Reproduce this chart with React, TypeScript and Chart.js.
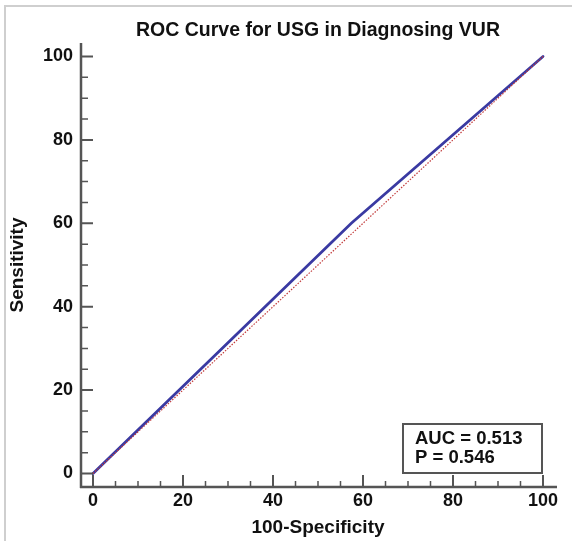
import React, { useEffect, useRef } from "react";
import { Chart, registerables } from "chart.js";

Chart.register(...registerables);

const rocFpr = [0, 57.4, 100];
const rocTpr = [0, 60, 100];
const diagX = [0, 100];
const diagY = [0, 100];
const majorTicks = [0, 20, 40, 60, 80, 100];
const minorTicks = [5, 10, 15, 25, 30, 35, 45, 50, 55, 65, 70, 75, 85, 90, 95];
const titleText = "ROC Curve for USG in Diagnosing VUR";
const xTitle = "100-Specificity";
const yTitle = "Sensitivity";
const statLines = ["AUC = 0.513", "P = 0.546"];

const FONT = '"Liberation Sans", Arial, sans-serif';
const AXIS = "#555555";

const customAxes = {
  id: "customAxes",
  afterDraw(chart: any) {
    const ctx = chart.ctx as CanvasRenderingContext2D;
    const xs = chart.scales.x;
    const ys = chart.scales.y;
    const area = chart.chartArea;
    ctx.save();

    // frame
    ctx.strokeStyle = "#cfcfcf";
    ctx.lineWidth = 2;
    ctx.beginPath();
    ctx.moveTo(5, 545);
    ctx.lineTo(5, 6);
    ctx.lineTo(580, 6);
    ctx.stroke();

    // axis lines
    ctx.strokeStyle = AXIS;
    ctx.lineWidth = 2.5;
    ctx.beginPath();
    ctx.moveTo(area.left, area.top);
    ctx.lineTo(area.left, area.bottom + 1);
    ctx.moveTo(area.left - 1, area.bottom);
    ctx.lineTo(area.right, area.bottom);
    ctx.stroke();

    // ticks
    ctx.lineWidth = 2;
    ctx.beginPath();
    for (const v of majorTicks) {
      const px = xs.getPixelForValue(v);
      ctx.moveTo(px, area.bottom);
      ctx.lineTo(px, area.bottom - 12);
      const py = ys.getPixelForValue(v);
      ctx.moveTo(area.left, py);
      ctx.lineTo(area.left + 12, py);
    }
    ctx.stroke();
    ctx.lineWidth = 1.5;
    ctx.beginPath();
    for (const v of minorTicks) {
      const px = xs.getPixelForValue(v);
      ctx.moveTo(px, area.bottom);
      ctx.lineTo(px, area.bottom - 6);
      const py = ys.getPixelForValue(v);
      ctx.moveTo(area.left, py);
      ctx.lineTo(area.left + 7, py);
    }
    ctx.stroke();

    // tick labels
    ctx.fillStyle = "#111111";
    ctx.font = `bold 18px ${FONT}`;
    ctx.textAlign = "center";
    ctx.textBaseline = "top";
    for (const v of majorTicks) {
      ctx.fillText(String(v), xs.getPixelForValue(v), area.bottom + 5);
    }
    ctx.textAlign = "right";
    ctx.textBaseline = "middle";
    for (const v of majorTicks) {
      ctx.fillText(String(v), area.left - 8, ys.getPixelForValue(v));
    }

    // titles
    const cx = (xs.getPixelForValue(0) + xs.getPixelForValue(100)) / 2;
    const cy = (ys.getPixelForValue(0) + ys.getPixelForValue(100)) / 2;
    ctx.font = `bold 19.5px ${FONT}`;
    ctx.textAlign = "center";
    ctx.textBaseline = "alphabetic";
    ctx.fillText(titleText, cx, 36);
    ctx.font = `bold 19px ${FONT}`;
    ctx.fillText(xTitle, cx, 533);
    ctx.save();
    ctx.translate(18, cy);
    ctx.rotate(-Math.PI / 2);
    ctx.textBaseline = "middle";
    ctx.fillText(yTitle, 0, 0);
    ctx.restore();

    // stats box
    ctx.fillStyle = "#ffffff";
    ctx.fillRect(403, 424, 139, 49);
    ctx.strokeStyle = AXIS;
    ctx.lineWidth = 2;
    ctx.strokeRect(403, 424, 139, 49);
    ctx.fillStyle = "#111111";
    ctx.font = `bold 18.5px ${FONT}`;
    ctx.textAlign = "left";
    ctx.textBaseline = "alphabetic";
    ctx.fillText(statLines[0], 415, 444);
    ctx.fillText(statLines[1], 415, 463);

    ctx.restore();
  },
};

export default function App() {
  const ref = useRef<HTMLCanvasElement | null>(null);
  useEffect(() => {
    document.body.style.margin = "0";
    const canvas = ref.current!;
    const chart = new Chart(canvas, {
      type: "scatter",
      data: {
        datasets: [
          {
            label: "Reference",
            data: diagX.map((x, i) => ({ x, y: diagY[i] })),
            showLine: true,
            borderColor: "#c23b3b",
            borderWidth: 1.2,
            borderDash: [1.5, 1.5],
            pointRadius: 0,
          },
          {
            label: "ROC",
            data: rocFpr.map((x, i) => ({ x, y: rocTpr[i] })),
            showLine: true,
            borderColor: "#3a3aa2",
            borderWidth: 2.8,
            pointRadius: 0,
            borderCapStyle: "round",
          },
        ],
      },
      options: {
        animation: false,
        responsive: false,
        maintainAspectRatio: false,
        layout: { padding: { left: 81, top: 43, right: 15, bottom: 54 } },
        plugins: { legend: { display: false }, tooltip: { enabled: false }, title: { display: false } },
        scales: {
          x: { type: "linear", min: -2.667, max: 103.111, display: false },
          y: { type: "linear", min: -3.24, max: 103.24, display: false },
        },
      },
      plugins: [customAxes],
    });
    return () => chart.destroy();
  }, []);
  return <canvas ref={ref} width={572} height={541} style={{ display: "block" }} />;
}
